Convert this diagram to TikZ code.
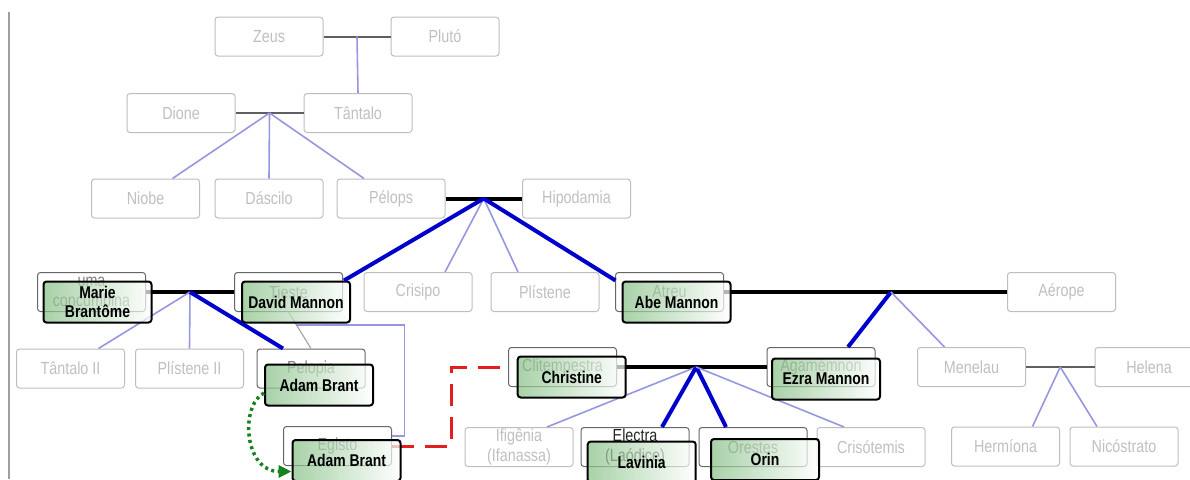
\documentclass[tikz,border=0pt]{standalone}
\usepackage{fontspec}
\setmainfont{Liberation Sans}[FakeStretch=0.82]
\usetikzlibrary{arrows.meta}

\definecolor{boxline}{RGB}{190,190,190}
\definecolor{boxtext}{RGB}{192,192,192}
\definecolor{kin}{RGB}{135,192,135}
\definecolor{childline}{RGB}{150,150,225}
\definecolor{bloodline}{RGB}{0,0,205}
\definecolor{pairline}{RGB}{95,95,95}
\definecolor{adultery}{RGB}{228,30,30}
\definecolor{copyline}{RGB}{20,130,30}

\begin{document}
\begin{tikzpicture}[x=1pt,y=-1pt,
  person/.style={draw=boxline, fill=white, rounded corners=3pt, line width=1pt,
    minimum width=108pt, minimum height=39pt, inner sep=0pt, text=boxtext,
    align=center, font=\fontsize{17.5}{19.5}\selectfont},
  masked/.style={person, draw=black!60, text=black!50},
  role/.style={draw=black, line width=2pt, rounded corners=3pt, left color=kin,
    right color=white, fill opacity=0.72, text opacity=1, minimum width=108pt,
    minimum height=41pt, inner sep=0pt, align=center,
    font=\fontsize{17}{19.5}\bfseries\selectfont},
  pair/.style={pairline, line width=2pt},
  mainpair/.style={black, line width=4pt},
  child/.style={childline, line width=1.6pt},
  heir/.style={bloodline, line width=4pt}]
\useasboundingbox (0,0) rectangle (1190,479);
\draw [gray!75, line width=2pt] (9,12) -- (9,479);
% gods and first generations
\node [person] (zeus) at (269,36.5) {Zeus};
\node [person] (pluto) at (445,36.5) {Plutó};
\node [person] (dione) at (181,113) {Dione};
\node [person] (tantalo) at (358,113) {Tântalo};
\node [person] (niobe) at (145.5,198.5) {Niobe};
\node [person] (dascilo) at (269,198.5) {Dáscilo};
\node [person] (pelops) at (391,198.5) {Pélops};
\node [person] (hipodamia) at (576.5,198.5) {Hipodamia};
% sons of Pelops
\node [masked] (concubina) at (91.5,292) {uma\\concumbina};
\node [masked] (tieste) at (288.5,292) {Tieste};
\node [person] (crisipo) at (418,292) {Crisipo};
\node [person] (plistene) at (545,292) {Plístene};
\node [masked] (atreu) at (669.5,292) {Atreu};
\node [person] (aerope) at (1061.5,292) {Aérope};
\node [person] (tantaloII) at (70.5,368.5) {Tântalo II};
\node [person] (plisteneII) at (189.5,368.5) {Plístene II};
\node [masked] (pelopia) at (311,368.5) {Pelopia};
\node [masked] (clitemnestra) at (562.5,367) {Clitempestra};
\node [masked] (agamemnon) at (821,367) {Agamémnon};
\node [person] (menelau) at (971.5,367) {Menelau};
\node [person] (helena) at (1149,367) {Helena};
% last generation
\node [masked] (egisto) at (337.5,446) {Egisto};
\node [person] (ifigenia) at (519,447) {Ifigênia\\(Ifanassa)};
\node [masked, text=black!85] (electra) at (635,447) {Electra\\(Laódice)};
\node [masked] (orestes) at (753,447) {Orestes};
\node [person] (crisotemis) at (871,447) {Crisótemis};
\node [person] (hermiona) at (1005.5,446.5) {Hermíona};
\node [person] (nicostrato) at (1124,446.5) {Nicóstrato};
% couples
\draw [pair] (zeus) -- coordinate (zp) (pluto);
\draw [pair] (dione) -- coordinate (dt) (tantalo);
\draw [mainpair] (pelops) -- coordinate (ph) (hipodamia);
\draw [mainpair] (concubina) -- coordinate (ut) (tieste);
\draw [mainpair] (atreu) -- coordinate[pos=0.59] (aa) (aerope);
\draw [mainpair] (clitemnestra) -- coordinate[pos=0.53] (ca) (agamemnon);
\draw [pair] (menelau) -- coordinate (mh) (helena);
\draw [gray!70, line width=1.2pt] (tieste.south) -- coordinate[pos=0.35] (tp) (pelopia.north);
% children
\draw [child] (zp) -- (tantalo.north);
\draw [child] (dt) -- ([xshift=27pt]niobe.north);
\draw [child] (dt) -- (dascilo.north);
\draw [child] (dt) -- ([xshift=-27pt]pelops.north);
\draw [child] (ph) -- ([xshift=27pt]crisipo.north);
\draw [child] (ph) -- ([xshift=-27pt]plistene.north);
\draw [child] (ut) -- ([xshift=28pt]tantaloII.north);
\draw [child] (ut) -- (plisteneII.north);
\draw [heir] (ut) -- ([xshift=-28pt]pelopia.north);
\draw [heir] (aa) -- ([xshift=27pt]agamemnon.north);
\draw [child] (aa) -- ([xshift=-27pt]menelau.north);
\draw [child] (ca) -- ([xshift=28pt]ifigenia.north);
\draw [heir] (ca) -- ([xshift=27pt]electra.north);
\draw [heir] (ca) -- ([xshift=-27pt]orestes.north);
\draw [child] (ca) -- ([xshift=-27pt]crisotemis.north);
\draw [child] (mh) -- ([xshift=27pt]hermiona.north);
\draw [child] (mh) -- ([xshift=-27pt]nicostrato.north);
\draw [child] (tp) -- ++(108,0) |- ([yshift=10pt]egisto.east);
\draw [adultery, line width=3pt, dash pattern=on 22pt off 11pt] (egisto.east) -- ++(59,0) |- (clitemnestra.west);
% roles of the play
\node [role] (marie) at (97.5,302) {Marie\\Brantôme};
\node [role] (david) at (296,302) {David Mannon};
\node [role] (adamA) at (319,385) {Adam Brant};
\node [role] (adamB) at (346.5,460.5) {Adam Brant};
\node [role] (christine) at (571.7,377) {Christine};
\node [role] (ezra) at (826,379) {Ezra Mannon};
\node [role] (abe) at (676.5,302) {Abe Mannon};
\node [role] (lavinia) at (641.7,462) {Lavinia};
\node [role] (orin) at (765,459.5) {Orin};
\draw [heir] (ph) -- ([xshift=-7pt]david.north east);
\draw [heir] (ph) -- ([xshift=-6pt]abe.north west);
\draw [copyline, line width=3.5pt, dash pattern=on 3pt off 3.5pt, -{Triangle[length=13pt,width=12pt]}]
  ([yshift=-8pt]adamA.west) .. controls +(-24,12) and +(-48,0) .. ([yshift=-11pt]adamB.west);
\end{tikzpicture}
\end{document}
